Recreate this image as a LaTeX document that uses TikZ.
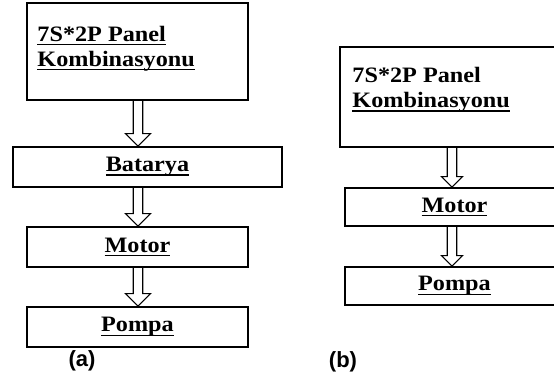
\documentclass[tikz,border=0pt]{standalone}
\usepackage{fontspec}
\setmainfont{Liberation Serif}[FakeStretch=1.1]
\newfontfamily\labelfont{Liberation Sans}
\usetikzlibrary{calc}
\newlength\px
\setlength\px{0.75pt}
\newcommand\boxfont{\fontsize{16.5pt}{18.75pt}\selectfont\bfseries}
% underline at a fixed depth, as a word processor draws it
\newcommand\uline[1]{\setbox0\hbox{#1}\rlap{\rule[-3.2pt]{\wd0}{1.2pt}}\box0}
% hollow block arrow: [head size] {from} {to} {axis}
\newcommand\hollowarrow[4][12]{%
  \draw[arrowline] ($(#4 |- #2.south)+(-4.75,0)$) -- ($(#4 |- #3.north)+(-4.75,-#1)$)
    -- ($(#4 |- #3.north)+(-#1,-#1)$) -- (#4 |- #3.north) -- ($(#4 |- #3.north)+(#1,-#1)$)
    -- ($(#4 |- #3.north)+(4.75,-#1)$) -- ($(#4 |- #2.south)+(4.75,0)$);}
\tikzset{
  box/.style={draw, line width=1.2pt, inner sep=0pt, minimum height=40\px, font=\boxfont},
  boxtext/.style={align=left, inner sep=0pt, font=\boxfont},
  arrowline/.style={line width=0.8pt, line join=miter},
  tag/.style={inner sep=0pt, font=\labelfont\fontsize{16.5pt}{18pt}\selectfont\bfseries}
}
\begin{document}
\begin{tikzpicture}[x=0.75pt,y=-0.75pt]
  \clip (0,0) rectangle (554,385);
  \coordinate (axisA) at (138,0);
  \coordinate (axisB) at (452,0);
  % (a)
  \node[box, minimum width=221\px, minimum height=97\px] (panelA) at (137.5,51.5) {};
  \node[boxtext, anchor=north west] (panelAtext) at ($(panelA.north west)+(11,23.5)$) {\uline{7S*2P Panel}\\\uline{Kombinasyonu}};
  \node[box, minimum width=269\px] (batteryA) at (147.5,167) {\uline{Batarya}};
  \node[box, minimum width=221\px] (motorA) at (137.5,247) {\uline{Motor}};
  \node[box, minimum width=221\px] (pumpA) at (137.5,327) {\uline{Pompa}};
  \hollowarrow[12.5]{panelA}{batteryA}{axisA}
  \hollowarrow[12.5]{batteryA}{motorA}{axisA}
  \hollowarrow[12.5]{motorA}{pumpA}{axisA}
  \node[tag] (labelA) at (82,361) {(a)};
  % (b)
  \node[box, minimum width=224\px, minimum height=100\px] (panelB) at (452,97) {};
  \node[boxtext, anchor=north west] (panelBtext) at ($(panelB.north west)+(13,21)$) {7S*2P Panel\\\uline{Kombinasyonu}};
  \node[box, minimum width=219\px, minimum height=38\px] (motorB) at (454.5,207) {\uline{Motor}};
  \node[box, minimum width=219\px, minimum height=38\px] (pumpB) at (454.5,286) {\uline{Pompa}};
  \hollowarrow[10.5]{panelB}{motorB}{axisB}
  \hollowarrow[10.5]{motorB}{pumpB}{axisB}
  \node[tag] (labelB) at (343,362) {(b)};
\end{tikzpicture}
\end{document}
